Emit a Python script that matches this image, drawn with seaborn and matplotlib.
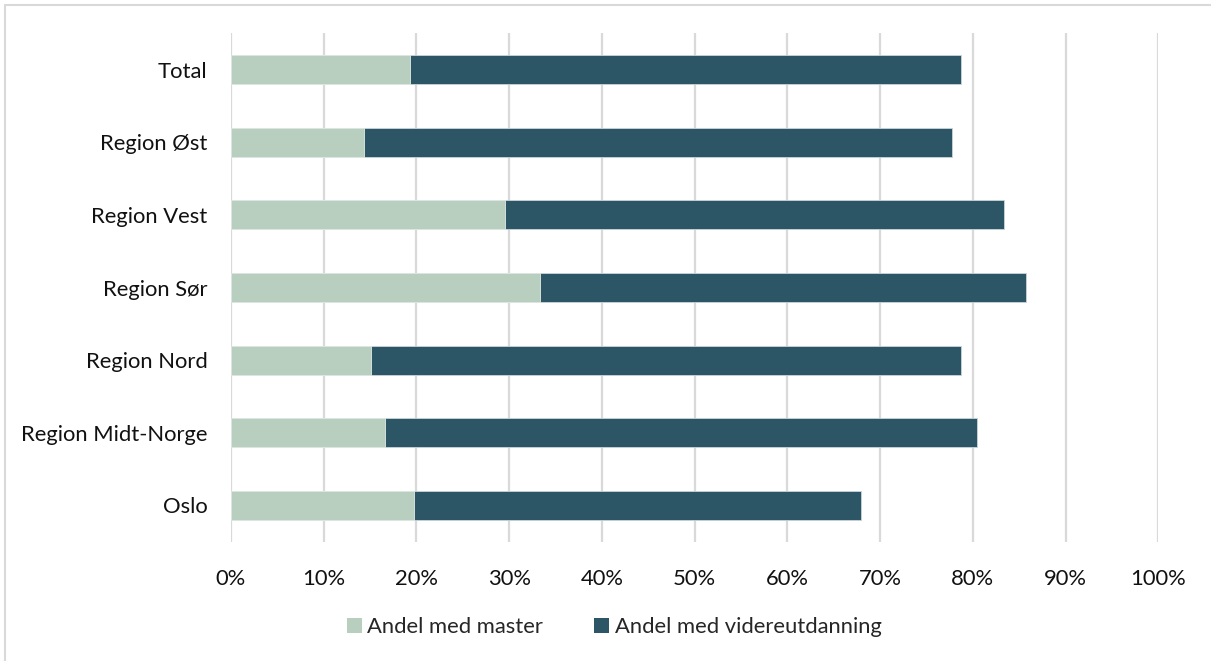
import numpy as np
import pandas as pd
import seaborn as sns
import matplotlib.pyplot as plt
from matplotlib.patches import Rectangle, Patch

# data (percent)
regions = ['Total', 'Region Øst', 'Region Vest', 'Region Sør',
           'Region Nord', 'Region Midt-Norge', 'Oslo']
master = [19.3, 14.3, 29.6, 33.3, 15.1, 16.6, 19.7]
videre = [59.4, 63.4, 53.8, 52.4, 63.6, 63.9, 48.2]
xticks = [0, 10, 20, 30, 40, 50, 60, 70, 80, 90, 100]

light = '#B8CFBF'
dark = '#2C5566'

df = pd.DataFrame({'region': regions, 'master': master, 'videre': videre})
df['total'] = df['master'] + df['videre']

sns.set_theme(style='white')
plt.rcParams['font.family'] = ['Lato', 'DejaVu Sans']

fig = plt.figure(figsize=(12.11, 6.61), dpi=100)
ax = fig.add_axes([231 / 1211, 1 - 541.7 / 661, (1158.3 - 231) / 1211, (541.7 - 33.3) / 661])

# stacked bars: full length in dark, master on top in light
sns.barplot(data=df, x='total', y='region', order=regions, color=dark, saturation=1,
            width=0.4, edgecolor='#C9D6DA', linewidth=0.6, ax=ax, zorder=2)
sns.barplot(data=df, x='master', y='region', order=regions, color=light, saturation=1,
            width=0.4, edgecolor='#E2EBE5', linewidth=0.6, ax=ax, zorder=3)

ax.set_xlim(0, 100)
ax.set_ylim(6.5, -0.5)
ax.set_xticks(xticks)
ax.set_xticklabels([f'{t}%' for t in xticks])
ax.set_xlabel('')
ax.set_ylabel('')
ax.grid(axis='x', color='#D9D9D9', linewidth=1.6, zorder=0)
ax.set_axisbelow(True)
for s in ax.spines.values():
    s.set_visible(False)
ax.tick_params(axis='both', length=0, labelsize=15.8, colors='#111111')
ax.tick_params(axis='y', pad=17)
ax.tick_params(axis='x', pad=20)

handles = [Patch(facecolor=light, edgecolor='none', label='Andel med master'),
           Patch(facecolor=dark, edgecolor='none', label='Andel med videreutdanning')]
fig.legend(handles=handles, loc='center', bbox_to_anchor=(614 / 1211, 1 - 627 / 661),
           ncol=2, frameon=False, fontsize=15.8, handlelength=0.7, handleheight=0.7,
           handletextpad=0.25, columnspacing=2.3)

# outer frame of the chart area
fig.patches.append(Rectangle((4.5 / 1211, -0.1), 1.2, 1 - 4.5 / 661 + 0.1,
                             transform=fig.transFigure, fill=False,
                             edgecolor='#D9D9D9', linewidth=1.5))

fig.savefig('out.png', dpi=100)
